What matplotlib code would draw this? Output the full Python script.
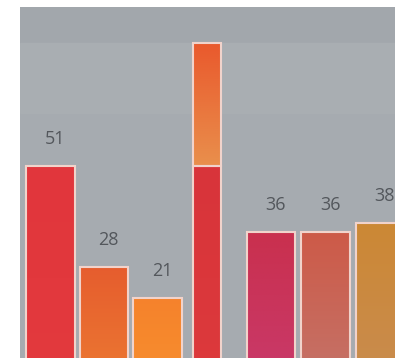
import numpy as np
import matplotlib.pyplot as plt
from matplotlib.colors import LinearSegmentedColormap

# first group of bars
vals_a = [51, 28, 21]
cols_a = [("#e1363c", "#e33a3e"), ("#e65d2e", "#ec7a32"), ("#f5822c", "#f8902e")]
# stacked bar (first two values on top of each other)
stack_vals = [51, 28]
stack_cols = [("#d8343a", "#dd3a3c"), ("#e9592d", "#e98f4c")]
# second group
vals_b = [36, 36, 38]
cols_b = [("#c9304e", "#c93a6c"), ("#cd5a48", "#c4746a"), ("#cc8835", "#c98c50")]

pos_a = [0, 1, 2]
pos_stack = 2.93
pos_b = [4.12, 5.14, 6.16]
w = 0.9
w_stack = 0.52
edge = "#f1d3cb"

fig = plt.figure(figsize=(3.95, 3.58), dpi=100)
ax = fig.add_axes([20 / 395, 0, 375 / 395, 351 / 358])
ax.set_facecolor("#a6abb0")
ax.axhspan(79, 100, color="#a2a7ac", zorder=0)
ax.axhspan(63, 79, color="#a9aeb2", zorder=0)


def grad_bar(x, bottom, height, width, c_top, c_bot):
    b = ax.bar(x, height, width, bottom=bottom, color="none",
               edgecolor=edge, linewidth=1.5, zorder=3)[0]
    cmap = LinearSegmentedColormap.from_list("g", [c_bot, c_top])
    g = np.linspace(0, 1, 100).reshape(-1, 1)
    im = ax.imshow(g, cmap=cmap, origin="lower", aspect="auto", zorder=2,
                   extent=[x - width / 2, x + width / 2, bottom, bottom + height])
    im.set_clip_path(b)


def label(x, v):
    ax.text(x + 0.09, v + 6.1, str(v), ha="center", va="center",
            fontsize=13, color="#53575c", family="Open Sans")


for x, v, (ct, cb) in zip(pos_a, vals_a, cols_a):
    grad_bar(x, 0, v, w, ct, cb)
    label(x, v)

bottom = 0
for v, (ct, cb) in zip(stack_vals, stack_cols):
    grad_bar(pos_stack, bottom, v, w_stack, ct, cb)
    bottom += v

for x, v, (ct, cb) in zip(pos_b, vals_b, cols_b):
    grad_bar(x, 0, v, w, ct, cb)
    label(x, v)

ax.set_xlim(-0.57, 6.44)
ax.set_ylim(7.36, 87.1)
ax.set_xticks([])
ax.set_yticks([])
for s in ax.spines.values():
    s.set_visible(False)

fig.savefig("out.png", dpi=100)
